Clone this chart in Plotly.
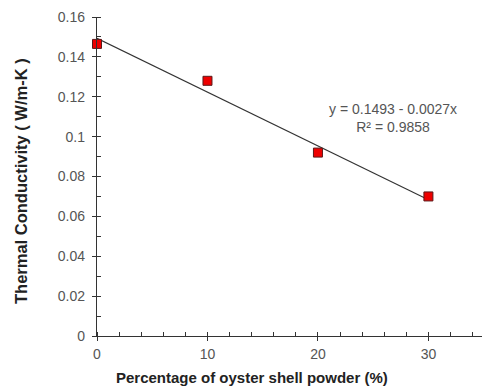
import plotly.graph_objects as go

x_pct = [0, 10, 20, 30]
conductivity = [0.1465, 0.128, 0.092, 0.07]
fit_intercept = 0.1493
fit_slope = -0.0027
fit_x = [0, 30]
fit_y = [fit_intercept + fit_slope * v for v in fit_x]
eq_text = "y = 0.1493 - 0.0027x<br>R² = 0.9858"
x_title = "<b>Percentage of oyster shell powder (%)</b>"
y_title = "<b>Thermal Conductivity ( W/m-K )</b>"

AX = "#333333"
TXT = "#555555"
FONT = "Liberation Sans, Arial, sans-serif"

fig = go.Figure()
fig.add_trace(go.Scatter(x=fit_x, y=fit_y, mode="lines", cliponaxis=False,
                         line=dict(color="#333333", width=1.1), showlegend=False))
fig.add_trace(go.Scatter(x=x_pct, y=conductivity, mode="markers", cliponaxis=False,
                         marker=dict(symbol="square", size=9, color="#ee0000",
                                     line=dict(color="#5a1a1a", width=1)),
                         showlegend=False))
# invisible trace for overlay axes (inside tick marks)
fig.add_trace(go.Scatter(x=[1], y=[0.01], xaxis="x2", yaxis="y2", mode="markers",
                         marker=dict(opacity=0), showlegend=False, hoverinfo="skip"))

xr = [0, 34.85]
yr = [0, 0.16]
fig.update_layout(
    width=482, height=386,
    margin=dict(l=97, r=0, t=17, b=50),
    paper_bgcolor="white", plot_bgcolor="white",
    font=dict(family=FONT, color=TXT, size=14),
    xaxis=dict(range=xr, dtick=10, tick0=0, showgrid=False, zeroline=False,
               showline=True, linecolor=AX, linewidth=1.3,
               ticks="outside", ticklen=4, tickwidth=1.3, tickcolor=AX,
               tickfont=dict(size=14, color=TXT, family=FONT),
               ticklabelstandoff=1,
               minor=dict(dtick=2, tick0=0, ticks="inside", ticklen=4, tickwidth=1.2, tickcolor=AX)),
    yaxis=dict(range=yr, dtick=0.02, tick0=0, showgrid=False, zeroline=False,
               showline=True, linecolor=AX, linewidth=1.3,
               ticks="outside", ticklen=4, tickwidth=1.3, tickcolor=AX,
               tickfont=dict(size=14, color=TXT, family=FONT),
               ticklabelstandoff=4,
               tickformat="~g",
               minor=dict(dtick=0.01, tick0=0, ticks="inside", ticklen=4, tickwidth=1.2, tickcolor=AX)),
    xaxis2=dict(overlaying="x", range=xr, dtick=10, tick0=0, showgrid=False, zeroline=False,
                showline=False, ticks="inside", ticklen=4, tickwidth=1.3, tickcolor=AX,
                showticklabels=False, side="bottom", anchor="y"),
    yaxis2=dict(overlaying="y", range=yr, dtick=0.02, tick0=0, showgrid=False, zeroline=False,
                showline=False, ticks="inside", ticklen=4, tickwidth=1.3, tickcolor=AX,
                showticklabels=False, side="left", anchor="x"),
    annotations=[
        dict(x=26.8, y=0.1095, xref="x", yref="y", text=eq_text, showarrow=False,
             font=dict(size=14, color=TXT, family=FONT), align="center"),
        dict(x=(252 - 97) / 385, y=(336 - 377) / 319, xref="paper", yref="paper",
             xanchor="center", yanchor="middle", text=x_title, showarrow=False,
             font=dict(size=15, color="#222222", family=FONT)),
        dict(x=(21 - 97) / 385, y=(336 - 181) / 319, xref="paper", yref="paper",
             xanchor="center", yanchor="middle", text=y_title, showarrow=False, textangle=-90,
             font=dict(size=16.5, color="#222222", family=FONT)),
    ],
)

fig.write_html("out.html")
